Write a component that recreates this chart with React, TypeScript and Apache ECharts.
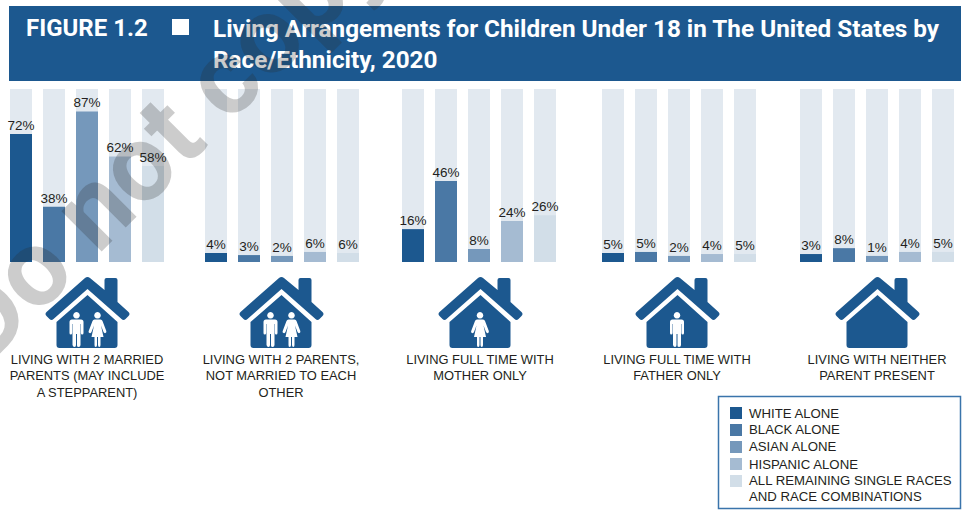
import React, { useEffect, useRef } from "react";
import * as echarts from "echarts";

const raceNames = ["WHITE ALONE", "BLACK ALONE", "ASIAN ALONE", "HISPANIC ALONE", "ALL REMAINING SINGLE RACES"];
const legendLines = ["WHITE ALONE", "BLACK ALONE", "ASIAN ALONE", "HISPANIC ALONE", "ALL REMAINING SINGLE RACES", "AND RACE COMBINATIONS"];
const raceColors = ["#1c588f", "#4a78a5", "#7598bb", "#a5bbd2", "#d2dee8"];
const trackColor = "#e2e9f0";

const arrangementLabels = [
  "LIVING WITH 2 MARRIED\nPARENTS (MAY INCLUDE\nA STEPPARENT)",
  "LIVING WITH 2 PARENTS,\nNOT MARRIED TO EACH\nOTHER",
  "LIVING FULL TIME WITH\nMOTHER ONLY",
  "LIVING FULL TIME WITH\nFATHER ONLY",
  "LIVING WITH NEITHER\nPARENT PRESENT",
];

// Heights of the bars as drawn in the picture
const marriedHeights = [74, 32, 87, 61, 55.5];
const unmarriedHeights = [5.2, 4, 3.5, 5.8, 5.2];
const motherHeights = [19, 46.8, 7.5, 23.7, 27];
const fatherHeights = [5.2, 5.8, 3.5, 4.6, 4.6];
const neitherHeights = [4.6, 8, 3.5, 5.8, 5.8];
// Printed labels
const marriedLabels = [72, 38, 87, 62, 58];
const unmarriedLabels = [4, 3, 2, 6, 6];
const motherLabels = [16, 46, 8, 24, 26];
const fatherLabels = [5, 5, 2, 4, 5];
const neitherLabels = [3, 8, 1, 4, 5];

const groupHeights = [marriedHeights, unmarriedHeights, motherHeights, fatherHeights, neitherHeights];
const groupLabels = [marriedLabels, unmarriedLabels, motherLabels, fatherLabels, neitherLabels];
const groupLefts = [4.5, 199.5, 396.5, 596.5, 794.5];
const iconCenters = [87, 281, 480, 677, 877];
const textCenters = [87, 281, 480, 677, 877];
const iconPeople = [["man", "woman"], ["man", "woman"], ["woman"], ["man"], []];

const houseD =
  "M40.5 1Q43 -1 45.5 1L60 13V3Q60 1 62 1H71Q73 1 73 3V25L84 35Q86 37 84 39L81 42Q79 44 77 42L43 12L9 42Q7 44 5 42L2 39Q0 37 2 35Z" +
  "M43 18L73 45V68Q73 71 70 71H15Q12 71 12 68V45Z";
const manD =
  "M8 0a3.3 3.3 0 1 1 -0.01 0Z" +
  "M3.5 7.5H12.5Q15 7.5 15 10V21Q15 22.5 13.7 22.5T12.4 21V12H12V33Q12 35 10 35T8.5 33V22H7.5V33Q7.5 35 6 35T4 33V12H3.6V21Q3.6 22.5 2.3 22.5T1 21V10Q1 7.5 3.5 7.5Z";
const womanD =
  "M9 0a3.3 3.3 0 1 1 -0.01 0Z" +
  "M6 7.5H12Q13.5 7.5 14 9L17.8 19Q18.2 20.5 17 21T15 20L12.5 13.5L15 25H12V33Q12 35 10.8 35T9.5 33V25H8.5V33Q8.5 35 7.2 35T6 33V25H3L5.5 13.5L3 20Q2.5 21.5 1 21T.2 19L4 9Q4.5 7.5 6 7.5Z";

echarts.graphic.registerShape("house", echarts.graphic.extendPath(houseD as any, {}) as any);
echarts.graphic.registerShape("man", echarts.graphic.extendPath(manD as any, {}) as any);
echarts.graphic.registerShape("woman", echarts.graphic.extendPath(womanD as any, {}) as any);

const labelFont = "'Liberation Sans', Arial, sans-serif";
const headFont = "Roboto, sans-serif";

export default function App() {
  const ref = useRef<HTMLDivElement>(null);
  useEffect(() => {
    const chart = echarts.init(ref.current!, undefined, { renderer: "svg" });
    const grid = groupLefts.map((left) => ({ left, top: 89, width: 165, height: 173 }));
    const xAxis = groupLefts.map((_, i) => ({ type: "category", gridIndex: i, data: raceNames, show: false }));
    const yAxis = groupLefts.map((_, i) => ({ type: "value", gridIndex: i, min: 0, max: 100, show: false }));
    const series = groupHeights.map((heights, i) => ({
      type: "bar",
      name: arrangementLabels[i].replace(/\n/g, " "),
      xAxisIndex: i,
      yAxisIndex: i,
      barWidth: 22,
      showBackground: true,
      backgroundStyle: { color: trackColor },
      data: heights.map((value, j) => ({
        value,
        itemStyle: { color: raceColors[j] },
        label: { formatter: `${groupLabels[i][j]}%` },
      })),
      label: {
        show: true,
        position: "top",
        distance: 1.5,
        color: "#231f20",
        fontFamily: labelFont,
        fontSize: 13.5,
      },
    }));

    const graphic: any[] = [
      { type: "rect", z: 1, shape: { x: 9, y: 6, width: 952, height: 75 }, style: { fill: "#1c588f" } },
      { type: "text", z: 2, x: 26, y: 28, style: { text: "FIGURE 1.2", fill: "#fff", font: `700 24px ${headFont}`, textVerticalAlign: "middle" } },
      { type: "rect", z: 2, shape: { x: 172, y: 19, width: 17, height: 16 }, style: { fill: "#fff" } },
      { type: "text", z: 2, x: 213, y: 28, style: { text: "Living Arrangements for Children Under 18 in The United States by", fill: "#fff", font: `700 24.3px ${headFont}`, textVerticalAlign: "middle" } },
      { type: "text", z: 2, x: 213, y: 59, style: { text: "Race/Ethnicity, 2020", fill: "#fff", font: `700 24.3px ${headFont}`, textVerticalAlign: "middle" } },
    ];
    iconCenters.forEach((cx, i) => {
      graphic.push({ type: "house", z: 2, x: cx - 42.5, y: 277, style: { fill: "#1c588f" } });
      const people = iconPeople[i];
      people.forEach((p, k) => {
        const px = people.length === 2 ? cx + (k === 0 ? -10.5 : 10.5) : cx;
        graphic.push({ type: p, z: 3, x: px - (p === "man" ? 8 : 9), y: 312, style: { fill: "#fff" } });
      });
      graphic.push({
        type: "text", z: 2, x: textCenters[i], y: 351.5,
        style: { text: arrangementLabels[i], fill: "#231f20", font: `12.9px ${labelFont}`, textAlign: "center", textVerticalAlign: "top", lineHeight: 16.3 },
      });
    });
    graphic.push({ type: "rect", z: 2, shape: { x: 718.5, y: 396.5, width: 242, height: 112 }, style: { fill: "#fff", stroke: "#3a74ab", lineWidth: 1.5 } });
    const swatchY = [407, 424, 441, 458, 475];
    raceColors.forEach((c, i) => {
      graphic.push({ type: "rect", z: 3, shape: { x: 730, y: swatchY[i], width: 12, height: 12 }, style: { fill: c } });
    });
    const lineY = [413.5, 429.5, 446.5, 464, 480.5, 496.5];
    legendLines.forEach((t, i) => {
      graphic.push({ type: "text", z: 3, x: 749, y: lineY[i], style: { text: t, fill: "#231f20", font: `13.2px ${labelFont}`, textVerticalAlign: "middle" } });
    });
    graphic.push({
      type: "text", z: 100, x: -40, y: 341, rotation: (45 * Math.PI) / 180,
      style: { text: "Do not copy", fill: "rgba(40,40,40,0.24)", font: `700 108px ${headFont}`, textVerticalAlign: "middle" },
    });

    chart.setOption({ animation: false, backgroundColor: "#fff", grid, xAxis, yAxis, series, graphic } as any);
    return () => chart.dispose();
  }, []);
  return <div ref={ref} style={{ position: "fixed", left: 0, top: 0, width: 966, height: 529 }} />;
}
